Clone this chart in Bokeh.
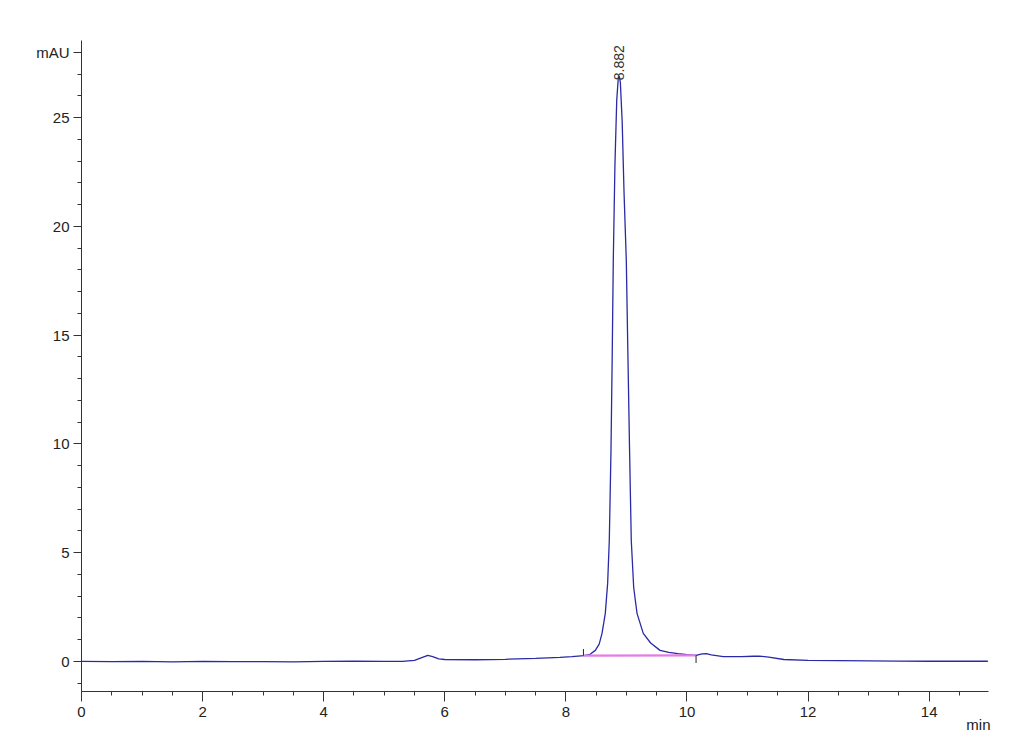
from bokeh.plotting import figure
from bokeh.models import FixedTicker, Title, ColumnDataSource, Range1d
from bokeh.core.properties import value
from bokeh.embed import file_html
from bokeh.resources import INLINE
import math

# ---- data ----
time_min = [0.0, 0.5, 1.0, 1.5, 2.0, 2.5, 3.0, 3.5, 4.0, 4.5, 5.0, 5.3, 5.5, 5.62,
            5.72, 5.8, 5.9, 6.0, 6.5, 7.0, 7.5, 7.9, 8.1, 8.3, 8.4, 8.486, 8.55,
            8.597, 8.651, 8.69, 8.717, 8.745, 8.765, 8.783, 8.81, 8.84, 8.865,
            8.882, 8.90, 8.93, 8.96, 8.998, 9.025, 9.052, 9.08, 9.12, 9.175,
            9.278, 9.4, 9.555, 9.7, 9.85, 10.0, 10.15, 10.25, 10.32, 10.4, 10.6,
            10.9, 11.1, 11.2, 11.35, 11.6, 12.0, 12.5, 13.0, 13.5, 14.0, 14.5, 14.97]
signal_mau = [0.00, -0.01, 0.00, -0.02, 0.00, -0.01, -0.01, -0.02, 0.00, 0.01, 0.00,
              0.00, 0.05, 0.18, 0.28, 0.22, 0.12, 0.09, 0.08, 0.10, 0.14, 0.19,
              0.22, 0.27, 0.33, 0.51, 0.80, 1.29, 2.21, 3.6, 5.56, 9.70, 14.0,
              18.43, 22.8, 25.8, 26.8, 26.9, 26.6, 24.8, 21.6, 18.43, 14.0, 9.70,
              5.56, 3.4, 2.21, 1.29, 0.85, 0.51, 0.42, 0.36, 0.31, 0.28, 0.35,
              0.36, 0.30, 0.22, 0.22, 0.24, 0.25, 0.20, 0.09, 0.05, 0.04, 0.03,
              0.02, 0.01, 0.01, 0.01]

peak_rt = [8.882]
peak_height = [26.9]
peak_labels = ["8.882"]

baseline_t = [8.29, 10.15]
baseline_y = [0.27, 0.28]

x_major = [0, 2, 4, 6, 8, 10, 12, 14]
y_major = [0, 5, 10, 15, 20, 25, 28]
y_labels = {28: "mAU"}
x_unit = "min"

FONT = "Liberation Sans"

p = figure(frame_width=907, frame_height=651, output_backend="svg", toolbar_location=None,
           x_range=Range1d(0, 14.98), y_range=Range1d(-1.38, 28.54),
           min_border_left=81, min_border_top=40, min_border_right=32,
           min_border_bottom=54)
p.outline_line_color = None
p.xgrid.visible = False
p.ygrid.visible = False
p.background_fill_color = "white"
p.border_fill_color = "white"

# signal trace
p.line(time_min, signal_mau, line_color="#2a2aa6", line_width=1.3)

# integration baseline
p.line(baseline_t, baseline_y, line_color="#e57be5", line_width=2.2)
p.segment(x0=[baseline_t[0]], y0=[baseline_y[0]], x1=[baseline_t[0]], y1=[baseline_y[0] + 0.3],
          line_color="#222222", line_width=1)
p.segment(x0=[baseline_t[1]], y0=[baseline_y[1]], x1=[baseline_t[1]], y1=[baseline_y[1] - 0.35],
          line_color="#222222", line_width=1)

# peak label
src = ColumnDataSource(dict(x=peak_rt, y=peak_height, t=peak_labels))
p.text(x="x", y="y", text="t", source=src, angle=math.pi / 2, text_align="left",
       text_baseline="middle", text_font=value(FONT), text_font_size="14px",
       text_color="#333333", y_offset=4)

# axes
for ax in (p.xaxis[0], p.yaxis[0]):
    ax.axis_line_color = "#333333"
    ax.major_tick_line_color = "#333333"
    ax.minor_tick_line_color = "#333333"
    ax.major_label_text_font = FONT
    ax.major_label_text_font_size = "15px"
    ax.major_label_text_color = "#222222"

p.xaxis.ticker = FixedTicker(ticks=x_major, minor_ticks=[i * 0.5 for i in range(0, 31)])
p.xaxis.major_tick_out = 10
p.xaxis.major_tick_in = 0
p.xaxis.minor_tick_out = 4
p.xaxis.minor_tick_in = 0
p.xaxis.major_label_standoff = 5

p.yaxis.ticker = FixedTicker(ticks=y_major, minor_ticks=list(range(-1, 29)))
p.yaxis.major_label_overrides = y_labels
p.yaxis.major_tick_out = 8
p.yaxis.major_tick_in = 0
p.yaxis.minor_tick_out = 4
p.yaxis.minor_tick_in = 0
p.yaxis.major_label_standoff = 4

p.add_layout(Title(text=x_unit, align="right", standoff=-11, offset=-2,
                   text_font=FONT, text_font_size="15px", text_font_style="normal",
                   text_color="#222222"), "below")

open("out.html", "w").write(file_html(p, INLINE))
